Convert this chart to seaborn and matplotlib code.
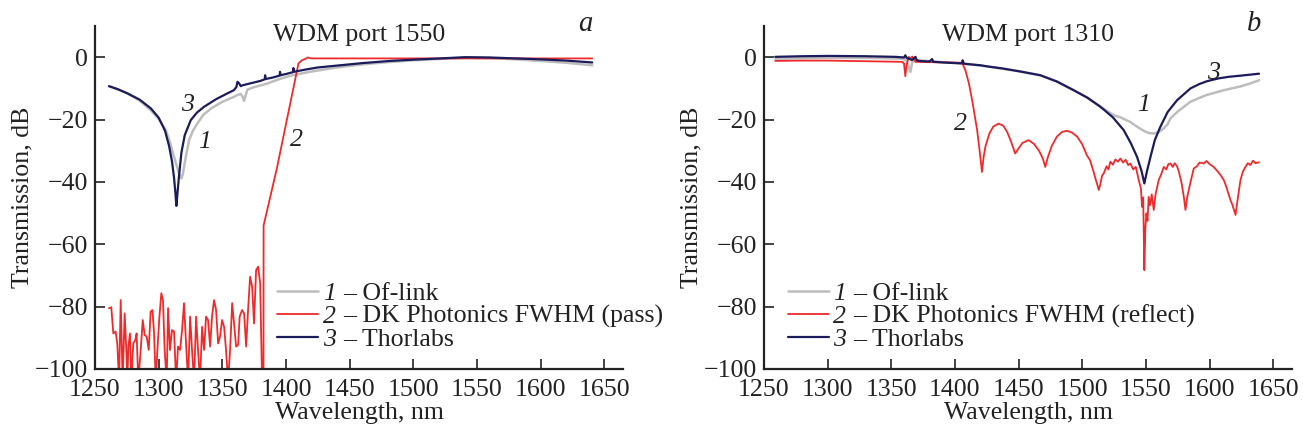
import pandas as pd
import matplotlib
matplotlib.use('Agg')
import matplotlib.pyplot as plt
import seaborn as sns
from matplotlib.legend_handler import HandlerBase
from matplotlib.lines import Line2D
from matplotlib.text import Text

# ---- panel a: WDM port 1550 ----
ofl_a_wl = [1261, 1268, 1275.4, 1285, 1293.8, 1300, 1305.6, 1309, 1312.1, 1316, 1317.9, 1319, 1321.3,
            1323.9, 1327, 1330.4, 1335, 1341, 1350, 1359.3, 1362, 1364.5, 1366, 1367.1, 1368.5, 1369.7,
            1375, 1385, 1395, 1405, 1420, 1440, 1460, 1480, 1500, 1520, 1540, 1560, 1580, 1600, 1620, 1640.5]
ofl_a_db = [-9.3, -10.3, -11.6, -13.9, -17.0, -19.8, -23.4, -27.5, -32.0, -37.3, -38.9, -37.5, -32.0,
            -26.6, -23.5, -21.3, -18.5, -16.5, -14.3, -12.7, -12.1, -11.8, -12.8, -14.0, -12.0, -10.4,
            -9.6, -8.5, -7.0, -5.8, -4.6, -3.3, -2.3, -1.6, -1.0, -0.6, -0.2, -0.3, -0.7, -1.2, -1.8, -2.6]

dk_a_wl = [1261.0, 1262.8, 1264.4, 1266.2, 1267.5, 1268.9, 1270.2, 1271.7, 1273.3, 1274.6, 1275.4, 1276.2,
           1277.5, 1278.5, 1280.1, 1281.7, 1282.7, 1284.0, 1285.9, 1287.5, 1289.0, 1290.6, 1292.2, 1293.7,
           1295.1, 1296.4, 1297.7, 1299.0, 1300.6, 1302.1, 1303.4, 1304.7, 1306.3, 1307.4, 1308.9, 1310.5,
           1312.1, 1313.7, 1315.2, 1316.8, 1318.4, 1319.9, 1321.5, 1323.1, 1324.7, 1326.2, 1327.8, 1329.4,
           1330.9, 1332.5, 1334.1, 1335.7, 1337.2, 1338.8, 1340.4, 1341.9, 1343.5, 1345.1, 1346.7, 1348.2,
           1349.8, 1351.4, 1352.9, 1354.5, 1356.1, 1357.7, 1359.2, 1360.8, 1362.4, 1363.6, 1365.5, 1367.1,
           1368.7, 1370.2, 1371.8, 1373.4, 1374.9, 1376.5, 1378.1, 1379.7, 1381.2, 1382.3, 1382.4,
           1392.8, 1409.8, 1412.5, 1416, 1417, 1420, 1450, 1500, 1550, 1600, 1640.5]
dk_a_db = [-80.5, -80.2, -88.6, -88.0, -91.8, -104, -77.9, -104, -82.2, -93.9, -104, -92.8,
           -88.6, -104, -91.8, -90.7, -88.6, -104, -93.9, -84.3, -89.1, -89.6, -93.9, -81.6,
           -81.1, -88.6, -104, -93.9, -83.2, -75.7, -77.9, -93.9, -104, -80.5, -93.9, -87.5,
           -88.0, -104, -92.8, -93.9, -87.5, -78.9, -91.8, -104, -83.2, -93.9, -104, -83.2,
           -93.9, -104, -86.5, -93.9, -83.2, -84.3, -92.8, -83.2, -77.9, -81.1, -91.8, -89.6,
           -84.3, -86.5, -93.9, -104, -93.9, -78.9, -85.4, -92.8, -92.3, -83.2, -81.1, -82.2,
           -92.8, -81.1, -70.4, -73.6, -85.4, -68.3, -67.2, -72.5, -104, -104, -54.0,
           -35.7, -2.0, -1.0, -0.4, -0.1, -0.4, -0.4, -0.4, -0.4, -0.4, -0.4]

thor_a_wl = [1261, 1268, 1275.4, 1285, 1293.8, 1300, 1305, 1308.2, 1310.5, 1312.1, 1313.2, 1313.9, 1314.8,
             1316, 1317.9, 1320.5, 1325.2, 1330, 1335.7, 1345, 1354, 1359, 1361, 1361.9, 1363, 1364.5,
             1366, 1370, 1375, 1380, 1383.3, 1383.6, 1384, 1390, 1395, 1395.3, 1395.7, 1400, 1405.5,
             1405.8, 1406.2, 1415, 1425, 1442.6, 1460, 1481.9, 1500, 1521.2, 1540.9, 1560, 1580, 1600,
             1620, 1640.5]
thor_a_db = [-9.3, -10.3, -11.6, -13.6, -16.4, -19.4, -23.6, -28.5, -33.5, -38.8, -43.8, -47.7, -43.5,
             -38.0, -30.5, -25.0, -20.2, -17.8, -15.9, -13.5, -11.6, -10.6, -9.6, -7.9, -8.3, -9.3,
             -9.0, -8.6, -8.1, -7.6, -7.1, -5.8, -7.0, -6.5, -5.9, -4.7, -5.8, -5.4, -4.8,
             -3.5, -4.7, -4.0, -3.3, -2.6, -1.9, -1.2, -0.8, -0.4, 0.0, -0.1, -0.4, -0.7,
             -1.1, -1.7]

# ---- panel b: WDM port 1310 ----
ofl_b_wl = [1258.9, 1300, 1340, 1358, 1362, 1365, 1366.5, 1369, 1380, 1405, 1427.7, 1450, 1467, 1480,
            1493.2, 1504, 1514.2, 1524.6, 1530, 1537.7, 1543, 1548.2, 1552, 1556, 1560, 1563.9, 1567,
            1568, 1569.5, 1575, 1584.9, 1597, 1611.1, 1625, 1632, 1638.8]
ofl_b_db = [-0.5, -0.2, -0.3, -0.5, -1.0, -4.7, -1.5, -0.9, -1.3, -2.0, -3.1, -4.5, -5.8, -7.8,
            -10.6, -13.0, -15.9, -18.6, -19.3, -20.8, -22.3, -23.6, -24.3, -24.5, -24.0, -22.9, -21.5,
            -20.6, -19.5, -17.4, -14.3, -12.2, -10.6, -9.3, -8.4, -7.4]

dk_b_wl = [1258.9, 1280, 1300, 1330, 1358.4, 1360, 1361, 1362, 1363.7, 1365, 1366.5, 1368.9, 1380, 1395,
           1405.6, 1408.2, 1411, 1413.5, 1417.4, 1419.5, 1421.2, 1422.5, 1424, 1427, 1430, 1434.2, 1438,
           1441, 1444, 1447.3, 1450, 1453, 1457.8, 1462, 1466, 1469, 1470.9, 1473, 1476, 1480, 1484,
           1487.9, 1492, 1496, 1500, 1503.6, 1506, 1508.9, 1510, 1511.5, 1512.9, 1514, 1515.5, 1516.8,
           1519, 1520.5, 1522, 1524, 1526, 1528, 1529.9, 1532, 1534, 1536, 1537.7, 1540, 1542, 1544.3,
           1546, 1546.9, 1547.8, 1548.7, 1549.5, 1550.3, 1551.2, 1552.1, 1553.2, 1554.5, 1556.1, 1557.5,
           1560, 1562, 1564, 1566, 1567.5, 1569.2, 1571, 1572.5, 1574.4, 1576, 1578, 1579.7, 1581,
           1582.3, 1583.6, 1585, 1587.5, 1590, 1592, 1595.4, 1597.5, 1600, 1603.2, 1606, 1608.5, 1611.1,
           1613, 1616.3, 1618, 1620.3, 1622, 1624.2, 1626, 1628.1, 1630, 1632, 1634, 1636, 1638.8]
dk_b_db = [-1.2, -1.1, -1.1, -1.3, -1.5, -2.0, -6.1, -2.5, 0.1, -0.5, 0.2, -1.5, -1.6, -1.7,
           -1.8, -4.2, -8.5, -13.8, -23.4, -30.5, -36.8, -32.0, -28.5, -24.5, -22.3, -21.3, -22.0,
           -24.0, -27.0, -30.9, -29.2, -27.5, -26.6, -27.8, -30.0, -32.5, -35.2, -32.0, -28.5, -25.5, -24.0,
           -23.6, -24.2, -25.5, -28.0, -31.5, -33.0, -36.8, -38.5, -40.5, -42.6, -41.0, -38.0, -37.3,
           -35.0, -36.0, -33.5, -34.5, -32.8, -33.5, -32.5, -33.8, -32.9, -34.6, -34.1, -36.0, -35.2, -39.4,
           -42.0, -48.0, -45.0, -68.3, -55.0, -50.1, -52.5, -44.8, -47.5, -44.0, -49.0, -44.0,
           -39.4, -37.5, -35.2, -36.0, -34.3, -34.1, -35.2, -34.0, -35.0, -37.0, -40.5, -44.8, -49.0,
           -45.0, -42.6, -40.0, -35.7, -35.0, -33.8, -34.1, -33.3, -34.3, -35.2, -36.5, -37.8, -39.4,
           -41.5, -45.8, -47.5, -50.6, -45.5, -39.4, -36.8, -35.2, -34.0, -34.6, -33.2, -34.0, -33.7]

thor_b_wl = [1258.9, 1280, 1300.8, 1330, 1353.2, 1360, 1361, 1362, 1366.3, 1369, 1370, 1371.5, 1380, 1382,
             1383, 1395, 1405.6, 1406, 1407, 1420, 1427.7, 1437, 1450, 1467, 1480, 1493.2, 1504, 1514.2,
             1524, 1532.5, 1538, 1543, 1546.5, 1548.7, 1550.8, 1553.5, 1557, 1561.3, 1567, 1574.4, 1585,
             1592, 1598, 1607, 1615, 1625, 1632, 1638.8]
thor_b_db = [0.1, 0.3, 0.4, 0.3, 0.1, -0.1, 0.6, -0.2, -0.9, 0.1, -1.0, -1.2, -1.4, -0.6,
             -1.5, -1.8, -2.0, -1.0, -2.1, -2.6, -3.1, -3.6, -4.5, -5.8, -7.8, -10.6, -13.0, -15.9,
             -19.3, -23.4, -27.5, -32.0, -36.5, -40.5, -36.5, -32.0, -26.5, -22.3, -17.6, -13.8, -10.0,
             -8.6, -7.7, -6.8, -6.3, -5.9, -5.6, -5.3]

curve_nums = ['1', '2', '3']
labels_a = ['– Of-link', '– DK Photonics FWHM (pass)', '– Thorlabs']
labels_b = ['– Of-link', '– DK Photonics FWHM (reflect)', '– Thorlabs']
colors = ['#bdbdbd', '#ee2a2a', '#1c1c5c']

sns.set_style('ticks')
plt.rcParams['font.family'] = ['Liberation Serif', 'DejaVu Serif']
fs = 18.6
ink = '#222222'


class NumHandler(HandlerBase):
    # legend key: short line followed by the italic curve number
    def __init__(self, num):
        super().__init__()
        self.num = num

    def create_artists(self, legend, orig_handle, xdescent, ydescent, width, height, fontsize, trans):
        x0 = -xdescent
        ym = -ydescent + height / 2
        line = Line2D([x0, x0 + width * 0.72], [ym, ym], color=orig_handle.get_color(),
                      lw=orig_handle.get_linewidth(), transform=trans)
        txt = Text(x0 + width * 0.80, -ydescent, self.num, ha='left', va='baseline', fontsize=fontsize,
                   style='italic', color=ink, transform=trans)
        return [line, txt]


fig = plt.figure(figsize=(13.03, 4.36), dpi=100)
ax_a = fig.add_axes([0.0729, 0.1537, 0.4056, 0.7867])
ax_b = fig.add_axes([0.5863, 0.1537, 0.4056, 0.7867])

panels = [
    (ax_a, [(ofl_a_wl, ofl_a_db), (dk_a_wl, dk_a_db), (thor_a_wl, thor_a_db)], labels_a, 'WDM port 1550', 'a',
     [('3', 1322.6, -15.4), ('1', 1335.7, -27.1), ('2', 1408.6, -26.6)], 0.345),
    (ax_b, [(ofl_b_wl, ofl_b_db), (dk_b_wl, dk_b_db), (thor_b_wl, thor_b_db)], labels_b, 'WDM port 1310', 'b',
     [('2', 1404.1, -21.5), ('1', 1548.2, -15.4), ('3', 1603.2, -5.0)], 0.045),
]

for ax, series, labels, title, letter, tags, leg_x in panels:
    lws = [1.8, 1.3, 1.6]
    for (wl, db), c, lw in zip(series, colors, lws):
        df = pd.DataFrame({'wl': wl, 'db': db})
        sns.lineplot(data=df, x='wl', y='db', ax=ax, color=c, lw=lw,
                     estimator=None, sort=False, legend=False)
    ax.set_xlim(1250, 1665)
    ax.set_ylim(-100, 10)
    ax.set_xticks(range(1250, 1651, 50))
    ax.set_yticks(range(-100, 1, 20))
    ax.tick_params(direction='in', length=7, width=1.2, labelsize=fs, pad=5, colors=ink)
    ax.tick_params(axis='x', pad=7)
    for s in ['top', 'right']:
        ax.spines[s].set_visible(False)
    for s in ['left', 'bottom']:
        ax.spines[s].set_linewidth(1.6)
        ax.spines[s].set_color(ink)
    ax.set_xlabel('Wavelength, nm', fontsize=fs, labelpad=1, color=ink)
    ax.set_ylabel('Transmission, dB', fontsize=fs, labelpad=1, color=ink)
    ax.text(0.5, 0.975, title, transform=ax.transAxes, ha='center', va='center', fontsize=fs, color=ink)
    ax.text(0.928, 1.005, letter, transform=ax.transAxes, ha='center', va='center', fontsize=fs + 2,
            style='italic', color=ink)
    for t, x, y in tags:
        ax.text(x, y, t, ha='center', va='center', fontsize=fs, style='italic', color=ink)
    handles = ax.lines[:3]
    leg = ax.legend(handles=handles, labels=labels, loc='lower left',
                    bbox_to_anchor=(leg_x, 0.051), frameon=False, fontsize=fs,
                    borderpad=0, borderaxespad=0, handlelength=2.2, handletextpad=0.35, labelspacing=0.0,
                    handler_map={h: NumHandler(n) for h, n in zip(handles, curve_nums)})
    for t in leg.get_texts():
        t.set_color(ink)

fig.savefig('out.png', dpi=100)
